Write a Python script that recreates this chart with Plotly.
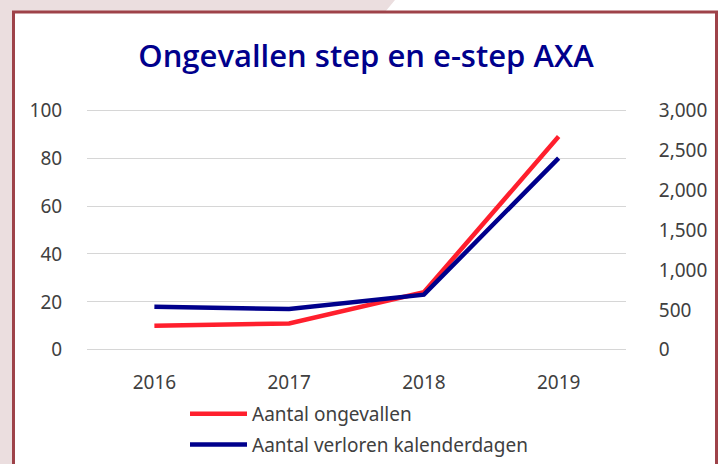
import plotly.graph_objects as go

years = ["2016", "2017", "2018", "2019"]
ongevallen = [10, 11, 24, 89]
kalenderdagen = [540, 510, 690, 2400]

left_ticks = [0, 20, 40, 60, 80, 100]
right_ticks = [0, 500, 1000, 1500, 2000, 2500, 3000]

W, H = 720, 464
ML, MR, MT, MB = 87, 94, 109, 113
PW, PH = W - ML - MR, H - MT - MB


def X(p):
    return (p - ML) / PW


def Y(q):
    return (H - MB - q) / PH


FONT = "Noto Sans"
TXT = "#404040"
RED = "#FF1F2D"
NAVY = "#00008C"

fig = go.Figure()
fig.add_trace(go.Scatter(
    x=years, y=ongevallen, name="Aantal ongevallen", mode="lines",
    line=dict(color=RED, width=4.5), legendgroup="a", yaxis="y"))
fig.add_trace(go.Scatter(
    x=years, y=kalenderdagen, name="Aantal verloren kalenderdagen", mode="lines",
    line=dict(color=NAVY, width=4.5), legendgroup="b", yaxis="y2"))

pink = "#EBDEDF"
path = "M{},{} L{},{} L{},{} L{},{} L{},{} L{},{} Z".format(
    X(0), Y(0), X(395), Y(0), X(385), Y(12), X(13), Y(12), X(13), Y(470), X(0), Y(470))

shapes = [
    dict(type="path", path=path, xref="paper", yref="paper",
         fillcolor=pink, line=dict(width=0), layer="below"),
    dict(type="rect", xref="paper", yref="paper",
         x0=X(13.5), x1=X(716.5), y0=Y(12), y1=Y(480),
         line=dict(color="#9E4249", width=3), fillcolor="rgba(0,0,0,0)", layer="below"),
]

fig.update_layout(
    width=W, height=H,
    margin=dict(l=ML, r=MR, t=MT, b=MB, autoexpand=False),
    paper_bgcolor="white", plot_bgcolor="white",
    shapes=shapes,
    title=dict(text="Ongevallen step en e-step AXA", x=366 / W, xanchor="center",
               xref="container", yref="container", y=1 - 56 / H, yanchor="middle",
               font=dict(family="Open Sans", size=31, weight=600, color="#00008C")),
    font=dict(family=FONT, size=19, color=TXT),
    xaxis=dict(type="category", range=[-0.5, 3.5], showgrid=False, showline=False,
               ticks="outside", ticklen=14, tickcolor="rgba(0,0,0,0)",
               tickfont=dict(family=FONT, size=19, color=TXT)),
    yaxis=dict(range=[-0.5, 100.5], tickvals=left_ticks, showgrid=True, gridcolor="#D6D6D6",
               gridwidth=1, zeroline=False, showline=False,
               ticks="outside", ticklen=20, tickcolor="rgba(0,0,0,0)",
               tickfont=dict(family=FONT, size=19, color=TXT)),
    yaxis2=dict(range=[-15, 3015], tickvals=right_ticks, tickformat=",", overlaying="y",
                side="right", showgrid=False, zeroline=False, showline=False,
                ticks="outside", ticklen=28, tickcolor="rgba(0,0,0,0)",
                tickfont=dict(family=FONT, size=19, color=TXT)),
    showlegend=True,
    legend=dict(x=X(185), xanchor="left", y=Y(395), yanchor="top",
                orientation="v", traceorder="grouped", tracegroupgap=3,
                itemwidth=57, bgcolor="rgba(0,0,0,0)",
                font=dict(family=FONT, size=19, color=TXT)),
)

fig.write_html("out.html")
